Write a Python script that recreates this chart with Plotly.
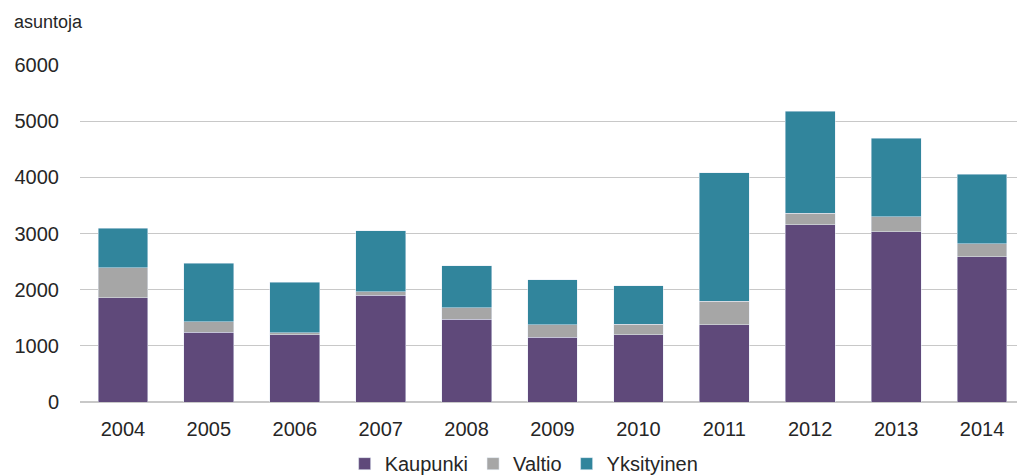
import plotly.graph_objects as go

years = ["2004", "2005", "2006", "2007", "2008", "2009", "2010", "2011", "2012", "2013", "2014"]
kaupunki = [1860, 1240, 1195, 1905, 1470, 1150, 1200, 1375, 3155, 3030, 2590]
valtio = [530, 185, 42, 55, 205, 223, 185, 420, 210, 268, 225]
yksityinen = [700, 1047, 897, 1088, 748, 802, 683, 2287, 1813, 1397, 1237]

fig = go.Figure()
fig.add_trace(go.Bar(x=years, y=kaupunki, name="Kaupunki", marker_color="#5f497a"))
fig.add_trace(go.Bar(x=years, y=valtio, name="Valtio", marker_color="#a6a6a6"))
fig.add_trace(go.Bar(x=years, y=yksityinen, name="Yksityinen", marker_color="#31859c"))

fig.update_layout(
    barmode="stack",
    bargap=0.42,
    width=1017, height=468,
    margin=dict(l=72, r=0, t=57, b=74, autoexpand=False),
    paper_bgcolor="white", plot_bgcolor="white",
    font=dict(family="Liberation Sans, Arial, sans-serif", size=20, color="#262626"),
    showlegend=True,
    legend=dict(orientation="h", x=0.47, xanchor="center", y=-0.125, yanchor="top",
                font=dict(size=20), itemwidth=30, traceorder="normal", tracegroupgap=0,
                bgcolor="rgba(0,0,0,0)"),
    annotations=[dict(text="asuntoja", xref="paper", yref="paper", x=-0.072, y=1.128,
                      xanchor="left", yanchor="middle", showarrow=False,
                      font=dict(size=18, color="#262626"))],
)
fig.update_yaxes(range=[0, 6000], dtick=1000, showgrid=True, gridcolor="#c8c8c8", gridwidth=1,
                 zeroline=True, zerolinecolor="#c8c8c8", ticklabelstandoff=20, showline=False,
                 automargin=False, tickfont=dict(size=20))
fig.update_xaxes(showline=False, ticklabelstandoff=13, automargin=False, tickfont=dict(size=20))

fig.write_html("out.html")
